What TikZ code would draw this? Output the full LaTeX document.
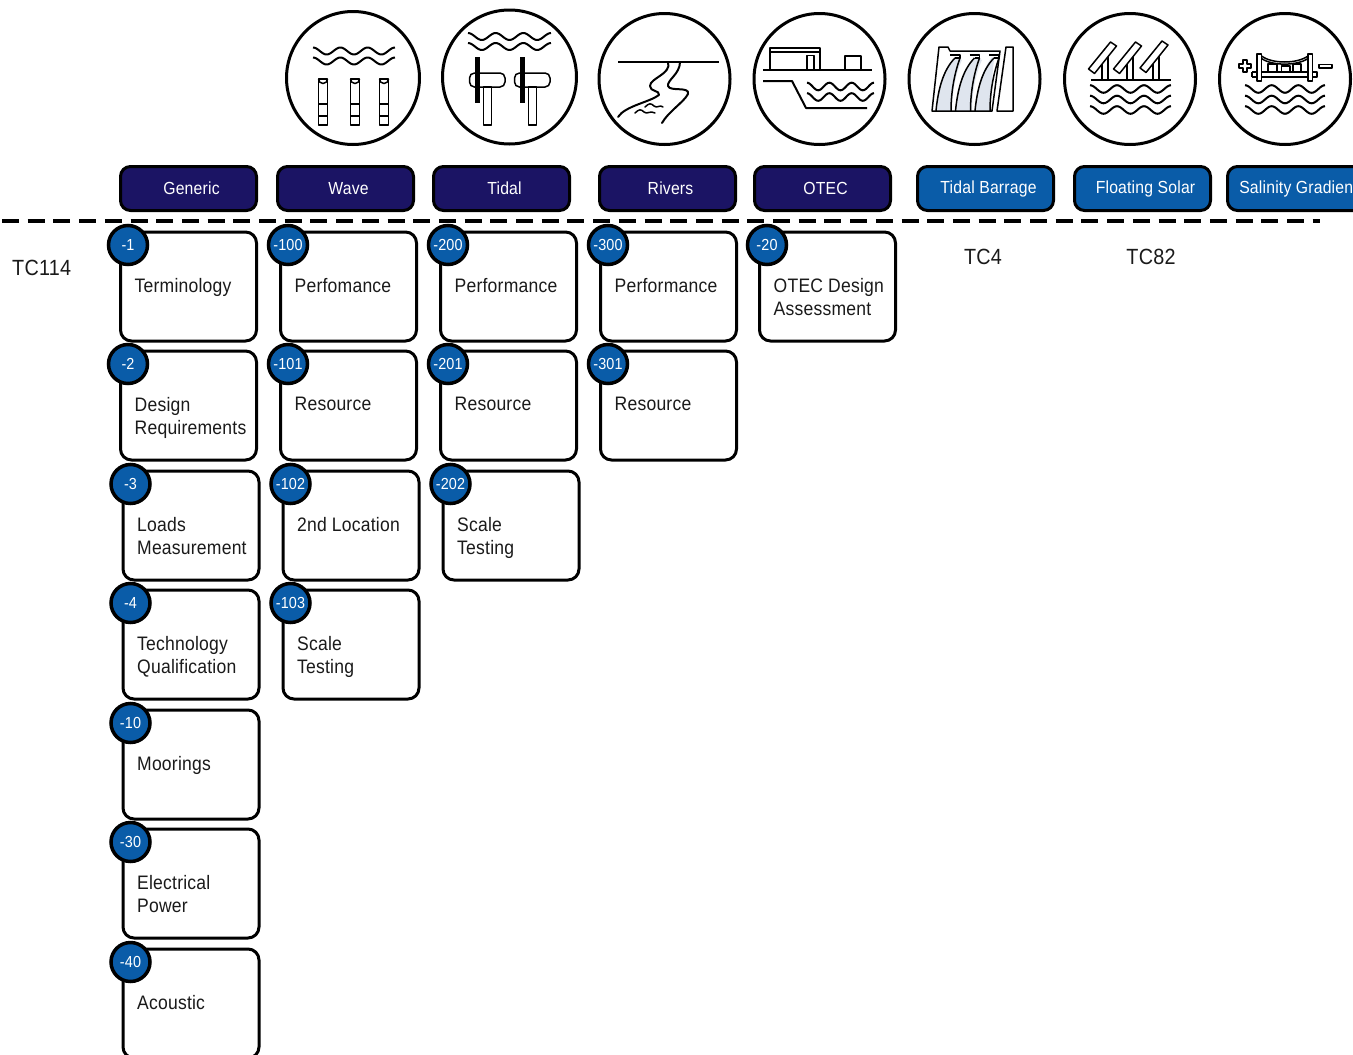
\documentclass[tikz,border=0pt]{standalone}
\usepackage{fontspec}
\setmainfont[FakeStretch=0.9,LetterSpace=1.1]{Liberation Sans}
\definecolor{navy}{HTML}{1B1464}
\definecolor{tcblue}{HTML}{0A5CA8}
\definecolor{ink}{HTML}{1A1A1A}
\definecolor{fallc}{HTML}{DFE5EE}
\tikzset{
  head/.style={draw=black,line width=3pt,fill=navy,rounded corners=10pt,minimum width=136pt,minimum height=44pt,inner sep=0pt},
  headb/.style={head,fill=tcblue},
  headtxt/.style={text=white,inner sep=0pt,font=\fontsize{17.5}{20}\selectfont},
  card/.style={draw=black,line width=3pt,fill=white,rounded corners=11pt,minimum width=136pt,minimum height=109pt,inner sep=0pt,anchor=north west},
  badge/.style={circle,draw=black,line width=3.5pt,fill=tcblue,minimum size=39pt,inner sep=0pt,text=white,font=\fontsize{16}{18}\selectfont},
  cardtxt/.style={anchor=north west,align=left,inner sep=0pt,text=ink,font=\fontsize{19.5}{23}\selectfont},
  tc/.style={text=ink,inner sep=0pt,font=\fontsize{22}{24}\selectfont},
  ring/.style={circle,draw=black,line width=3pt,fill=white,inner sep=0pt},
  ico/.style={draw=black,line width=2pt,line join=round},
  icot/.style={draw=black,line width=1.5pt,line join=round}
}
\newcommand{\tccard}[5]{%
  \node[card] (c#1) at (#2-1,#3-1.5) {};
  \node[badge] (b#1) at (#2+8,#3+13) {#4};
  \node[cardtxt] (t#1) at (#2+14.5,#3+46) {#5};
}
\newcommand{\hdr}[4]{%
  \node[#2] (h#1) at (#3,188.5) {};
  \node[headtxt] (ht#1) at (#3+3,188.5) {#4};
}
\newcommand{\wavy}[5][3]{%
  \draw[ico] plot[smooth,domain=0:1,samples=49] ({#2+(#3-#2)*\x},{#4-#5*cos(360*#1*\x)});
}
\begin{document}
\begin{tikzpicture}[x=1pt,y=-1pt]
\useasboundingbox (0,0) rectangle (1353,1055);
\fill[white] (0,0) rectangle (1353,1055);
% icons
\node[ring,minimum size=133pt] (iWave) at (353,78) {};
\node[ring,minimum size=134pt] (iTidal) at (509.5,77) {};
\node[ring,minimum size=131pt] (iRivers) at (664.5,79) {};
\node[ring,minimum size=131pt] (iOtec) at (819.5,79) {};
\node[ring,minimum size=131pt] (iBarrage) at (974.5,79) {};
\node[ring,minimum size=131pt] (iSolar) at (1130,79) {};
\node[ring,minimum size=131pt] (iSalinity) at (1285,79) {};
% wave icon
\wavy{313}{395}{51}{3.5}
\wavy{313}{395}{61}{3.5}
\foreach \px in {323,355,384}{
  \draw[icot] (\px-4.5,125) rectangle (\px+4.5,116);
  \draw[icot] (\px-4.5,116) -- (\px-4.5,104) (\px+4.5,116) -- (\px+4.5,104);
  \draw[icot] (\px-4.5,104) rectangle (\px+4.5,79);
  \draw[icot] (\px-4.5,79) arc[start angle=180,end angle=0,radius=4.5];
}
% tidal icon
\wavy{468}{551}{36.5}{3.5}
\wavy{468}{551}{46.5}{3.5}
\foreach \px in {0,45}{
  \fill[black] (475+\px,57) rectangle (479.5+\px,103);
  \draw[icot] (483.5+\px,87) rectangle (491.5+\px,125);
  \draw[icot,rounded corners=5pt] (469.5+\px,73) rectangle (505+\px,87);
}
% rivers icon
\draw[ico] (618,62) -- (719,62);
\draw[ico,line cap=round] (668,62) .. controls (672,74) and (650,78) .. (650,86) .. controls (650,92) and (660,90) .. (659,95) .. controls (650,102) and (625,106) .. (618,117);
\draw[ico,line cap=round] (680,62) .. controls (680,74) and (667,80) .. (668,86) .. controls (670,92) and (690,86) .. (688,94) .. controls (684,102) and (668,112) .. (662,123);
\draw[icot,line cap=round] (635,113) .. controls (639,109) and (641,109) .. (644,112) .. controls (647,115) and (650,110) .. (655,113);
\draw[icot,line cap=round] (645,107) .. controls (649,103) and (651,103) .. (654,106) .. controls (657,109) and (660,104) .. (663,107);
% OTEC icon
\draw[ico] (763,70) -- (872,70);
\draw[ico] (770,70) -- (770,47.5) -- (820,47.5) -- (820,70);
\draw[icot] (770,52) -- (820,52);
\draw[icot] (807,70) -- (807,55.5) -- (814,55.5) -- (814,70);
\draw[ico] (845,70) -- (845,56) -- (861,56) -- (861,70);
\draw[ico] (763,81) -- (792,81) -- (806,108) -- (867,108);
\wavy{807}{874}{86.5}{3.8}
\wavy{807}{874}{97}{3.8}
% barrage icon
\fill[fallc] (955,57) .. controls (943,70) and (938,90) .. (937,111) -- (952,111) .. controls (952,90) and (957,70) .. (962,60) -- cycle;
\fill[fallc] (975,57) .. controls (963,70) and (957,90) .. (955,111) -- (972,111) .. controls (972,90) and (977,70) .. (982,60) -- cycle;
\fill[fallc] (992,57) .. controls (982,70) and (976,90) .. (975,111) -- (990,111) .. controls (991,95) and (992,75) .. (994,60) -- cycle;
\draw[icot] (939,47) -- (948,47) -- (950,51) -- (1000,51) -- (992,111) -- (932,111) -- cycle;
\draw[icot] (1006,47) -- (1013,47) -- (1013,111) -- (997,111) -- cycle;
\foreach \px in {0,19.5,39}{
  \draw[icot] (950+\px,55) -- (960+\px,55) -- (960+\px,58) -- (955+\px,58);
  \draw[icot] (955+\px,58) .. controls (943+\px,70) and (938+\px,90) .. (936+\px,111);
  \draw[icot] (960+\px,58) .. controls (955+\px,72) and (951+\px,90) .. (951+\px,111);
}
% solar icon
\draw[ico] (1091,80) -- (1171,80);
\foreach \ax/\ay/\lx in {1088.5/69/1105,1113.5/69/1130,1140/68/1156}{
  \draw[icot] (\lx-3,62) -- (\lx-3,80) (\lx+3,56) -- (\lx+3,80);
  \draw[icot,fill=white] (\ax,\ay) -- (\ax+6,\ay+4.5) -- (\ax+28,\ay-23) -- (\ax+22,\ay-27) -- cycle;
}
\wavy{1090}{1171}{89}{3.8}
\wavy{1090}{1171}{99.5}{3.8}
\wavy{1090}{1171}{110}{3.8}
% salinity icon
\draw[icot] (1243,60) -- (1247,60) -- (1247,64) -- (1251,64) -- (1251,68) -- (1247,68) -- (1247,72) -- (1243,72) -- (1243,68) -- (1239,68) -- (1239,64) -- (1243,64) -- cycle;
\draw[icot] (1319,64.5) rectangle (1332,68);
\draw[icot] (1257,54) rectangle (1261.5,81);
\draw[icot] (1308,54) rectangle (1312.5,81);
\draw[icot] (1252,72) -- (1257,72) (1252,77) -- (1257,77) (1252,72) -- (1252,77);
\draw[icot] (1312.5,72) -- (1317,72) -- (1317,77) -- (1312.5,77);
\draw[icot] (1261.5,72) -- (1308,72) (1261.5,77) -- (1308,77);
\draw[icot] (1261.5,56) .. controls (1272,64) and (1297,64) .. (1308,56);
\draw[icot] (1261.5,58.5) .. controls (1272,66) and (1297,66) .. (1308,58.5);
\draw[icot] (1268,64) rectangle (1277,72);
\draw[icot] (1281.5,66) rectangle (1290,72);
\draw[icot] (1293,64) rectangle (1301,72);
\wavy{1245}{1325}{89}{3.8}
\wavy{1245}{1325}{99.5}{3.8}
\wavy{1245}{1325}{110}{3.8}
% divider
\coordinate (divL) at (2,221);
\coordinate (divR) at (1320,221);
\draw[black,line width=4pt,dash pattern=on 17pt off 8.7pt] (divL) -- (divR);
% headers
\hdr{Generic}{head}{188.5}{Generic}
\hdr{Wave}{head}{345.5}{Wave}
\hdr{Tidal}{head}{501.5}{Tidal}
\hdr{Rivers}{head}{667.5}{Rivers}
\hdr{Otec}{head}{822.5}{OTEC}
\hdr{Barrage}{headb}{985.5}{Tidal Barrage}
\hdr{Solar}{headb}{1142.5}{Floating Solar}
\hdr{Salinity}{headb}{1295.5}{Salinity Gradient}
% labels
\node[tc,anchor=west] (l114) at (12,268) {TC114};
\node[tc] (l4) at (983,257) {TC4};
\node[tc] (l82) at (1151,257) {TC82};
% cards
\tccard{a}{120}{232}{-1}{Terminology}
\tccard{b}{120}{351}{-2}{Design\\Requirements}
\tccard{c}{122.5}{471}{-3}{Loads\\Measurement}
\tccard{d}{122.5}{590}{-4}{Technology\\Qualification}
\tccard{e}{122.5}{710}{-10}{Moorings}
\tccard{f}{122.5}{829}{-30}{Electrical\\Power}
\tccard{g}{122.5}{949}{-40}{Acoustic}
\tccard{h}{280}{232}{-100}{Perfomance}
\tccard{i}{280}{351}{-101}{Resource}
\tccard{j}{282.5}{471}{-102}{2nd Location}
\tccard{k}{282.5}{590}{-103}{Scale\\Testing}
\tccard{l}{440}{232}{-200}{Performance}
\tccard{m}{440}{351}{-201}{Resource}
\tccard{n}{442.5}{471}{-202}{Scale\\Testing}
\tccard{o}{600}{232}{-300}{Performance}
\tccard{p}{600}{351}{-301}{Resource}
\tccard{q}{759}{232}{-20}{OTEC Design\\Assessment}
\end{tikzpicture}
\end{document}
